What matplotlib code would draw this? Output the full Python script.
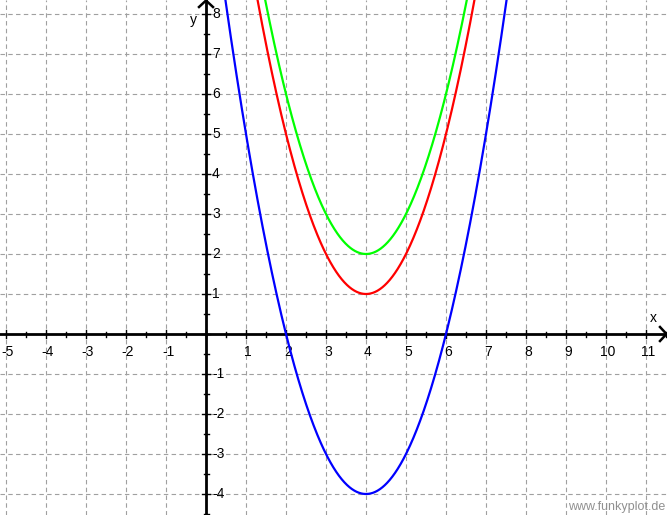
import numpy as np
import matplotlib
matplotlib.use("Agg")
import matplotlib.pyplot as plt

plt.rcParams['font.family'] = ['Liberation Sans', 'DejaVu Sans']
plt.rcParams['lines.scale_dashes'] = False

# Parabolas y = a*(x-h)^2 + k
names = ["blue", "red", "green"]
a_vals = [1.0, 1.0, 1.0]
h_vals = [4.0, 4.0, 4.0]
k_vals = [-4.0, 1.0, 2.0]
colors = ["#0000ff", "#ff0000", "#00ff00"]

x_ticks = [-5, -4, -3, -2, -1, 1, 2, 3, 4, 5, 6, 7, 8, 9, 10, 11]
y_ticks = [-4, -3, -2, -1, 1, 2, 3, 4, 5, 6, 7, 8]

W, H = 667, 515
fig = plt.figure(figsize=(W / 100, H / 100), dpi=100)
ax = fig.add_axes([0, 0, 1, 1])
px = 40.0  # pixels per unit
x0p, y0p = 206.0, 334.0
xmin, xmax = -x0p / px, (W - x0p) / px
ymin, ymax = (y0p - H) / px, y0p / px
ax.set_xlim(xmin, xmax)
ax.set_ylim(ymin, ymax)
ax.axis('off')

u = 1.0 / px  # one pixel in data units

# grid
for gx in range(int(np.floor(xmin)), int(np.ceil(xmax)) + 1):
    if gx != 0:
        ax.axvline(gx, color="#a0a0a0", lw=0.8, dashes=(3.2, 2.4), zorder=1)
for gy in range(int(np.floor(ymin)), int(np.ceil(ymax)) + 1):
    if gy != 0:
        ax.axhline(gy, color="#a0a0a0", lw=0.8, dashes=(3.2, 2.4), zorder=1)

# axes
ax.axhline(0, color="black", lw=2.0, zorder=3)
ax.axvline(0, color="black", lw=2.0, zorder=3)

# ticks
mx = np.arange(np.ceil(xmin * 2) / 2, xmax, 0.5)
for t in mx:
    hl = 4 * u if float(t).is_integer() else 2.5 * u
    ax.plot([t, t], [-hl, hl], color="black", lw=1.0, zorder=3)
my = np.arange(np.ceil(ymin * 2) / 2, ymax, 0.5)
for t in my:
    hl = 4 * u if float(t).is_integer() else 2.5 * u
    ax.plot([-hl, hl], [t, t], color="black", lw=1.0, zorder=3)

# arrows
al = 7 * u
ax.plot([xmax - al, xmax - 0.5 * u, xmax - al], [al, 0, -al], color="black", lw=1.8, zorder=4,
        solid_joinstyle='miter', clip_on=False)
ax.plot([-al, 0, al], [ymax - al, ymax - 0.5 * u, ymax - al], color="black", lw=1.8, zorder=4,
        solid_joinstyle='miter', clip_on=False)

# tick labels
for t in x_ticks:
    ax.text(t + 2 * u, -18 * u, str(t), ha="center", va="center", fontsize=10, zorder=5)
for t in y_ticks:
    ax.text(6 * u, t, str(t), ha="left", va="center", fontsize=10, zorder=5)
ax.text(xmax - 14 * u, 16 * u, "x", ha="center", va="center", fontsize=10)
ax.text(-13 * u, ymax - 20 * u, "y", ha="center", va="center", fontsize=10)

# curves
xs = np.linspace(xmin, xmax, 2000)
for a, h, k, c in zip(a_vals, h_vals, k_vals, colors):
    ax.plot(xs, a * (xs - h) ** 2 + k, color=c, lw=1.6, zorder=6)

fig.text(665 / W, 1 - 507 / H, "www.funkyplot.de", ha="right", va="center",
         fontsize=9, color="#909090")

fig.savefig("out.png", dpi=100)
